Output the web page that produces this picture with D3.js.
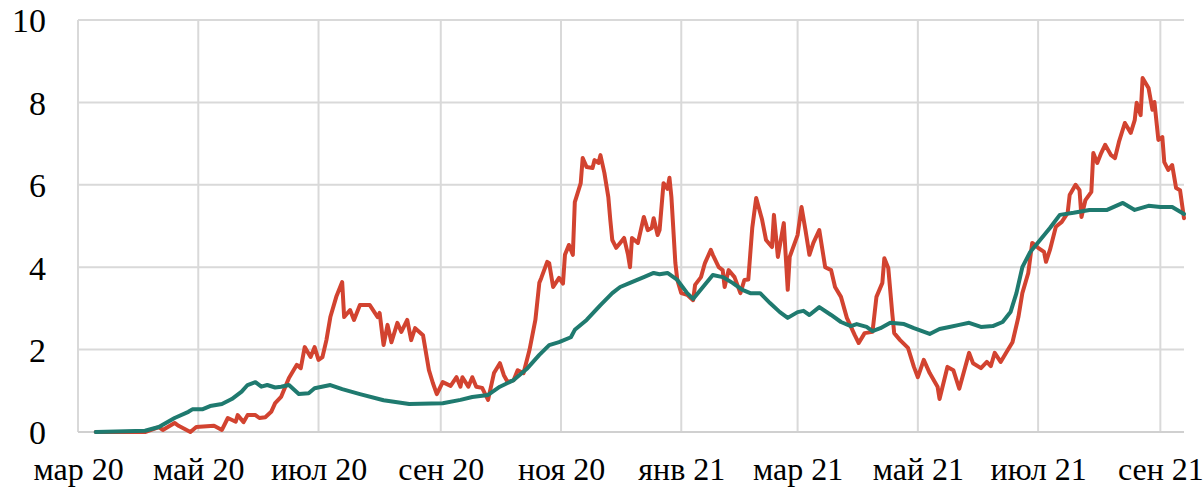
<!DOCTYPE html>
<html><head><meta charset="utf-8">
<script src="https://cdn.jsdelivr.net/npm/d3@7"></script>
<style>
html,body{margin:0;padding:0;background:#fff;}
svg{display:block;}
text{font-family:"Liberation Serif","Times New Roman",serif;fill:#000;}
</style></head>
<body>
<svg id="chart" width="1203" height="491"></svg>
<script>
// ---- data (day offsets from 1 Mar 2020, values) ----
const startDate = new Date(2020, 2, 1);
const endDate = new Date(2021, 8, 13);
const yTicks = [0, 2, 4, 6, 8, 10];
const tickDates = ["2020-03-01","2020-05-01","2020-07-01","2020-09-01","2020-11-01","2021-01-01","2021-03-01","2021-05-01","2021-07-01","2021-09-01"];
const tickLabels = ["мар 20","май 20","июл 20","сен 20","ноя 20","янв 21","мар 21","май 21","июл 21","сен 21"];

const redDays = [9,34,41,43,49,51,57,60,69,73,76,80,81,84,86,90,92,95,98,100,103,107,111,113,115,118,120,122,124,126,128,131,134,135,138,140,143,148,152,153,155,157,159,162,164,167,169,171,175,178,180,182,185,189,192,194,195,198,200,202,205,208,211,214,216,218,221,223,226,229,232,234,235,238,239,241,244,246,247,249,251,252,255,256,258,261,262,264,265,267,269,270,271,273,275,277,279,280,281,284,287,289,291,292,294,295,297,299,300,301,303,304,306,309,312,313,316,318,321,322,325,327,328,330,333,336,338,340,342,344,347,349,352,353,355,358,360,361,365,367,369,371,373,376,379,382,384,387,390,394,396,399,403,405,408,409,411,413,414,417,421,424,426,429,432,436,437,441,444,447,452,454,458,461,463,465,468,471,474,477,479,482,484,487,490,491,493,496,499,502,503,506,508,509,511,514,515,517,519,521,524,526,528,531,534,536,537,539,540,543,545,546,548,550,551,553,555,557,559,561];
const redVals = [0,0,0.12,0.05,0.22,0.15,0,0.12,0.15,0.05,0.34,0.25,0.41,0.24,0.41,0.41,0.34,0.36,0.49,0.7,0.85,1.31,1.63,1.55,2.06,1.82,2.06,1.75,1.82,2.23,2.79,3.28,3.64,2.79,2.96,2.72,3.08,3.08,2.79,2.89,2.11,2.6,2.18,2.65,2.43,2.72,2.23,2.52,2.35,1.5,1.19,0.92,1.21,1.12,1.33,1.1,1.33,1.1,1.33,1.1,1.07,0.78,1.43,1.67,1.38,1.21,1.26,1.5,1.43,1.99,2.72,3.62,3.74,4.13,4.1,3.52,3.74,3.6,4.3,4.54,4.3,5.58,6.04,6.65,6.43,6.41,6.6,6.53,6.72,6.29,5.7,5.15,4.66,4.47,4.59,4.71,4.3,4.0,4.71,4.59,5.22,4.9,4.95,5.19,4.78,4.9,6.04,5.9,6.17,5.7,4.1,3.69,3.37,3.33,3.2,3.57,3.76,4.1,4.42,4.3,4.0,3.93,3.52,3.93,3.76,3.37,3.69,3.7,4.95,5.68,5.15,4.66,4.49,5.27,4.25,5.07,3.45,4.25,4.78,5.46,4.9,4.3,4.59,4.9,4.0,3.93,3.52,3.28,2.77,2.35,2.16,2.4,2.43,3.28,3.62,4.22,3.98,2.89,2.4,2.23,2.04,1.58,1.33,1.75,1.43,1.1,0.8,1.58,1.5,1.05,1.92,1.67,1.55,1.7,1.6,1.92,1.7,1.94,2.18,2.79,3.37,3.86,4.59,4.47,4.37,4.13,4.42,4.98,5.1,5.32,5.75,6.0,5.87,5.22,5.63,5.83,6.77,6.53,6.77,6.97,6.72,6.65,7.04,7.5,7.26,7.57,7.99,7.69,8.59,8.35,7.82,8.01,7.09,7.16,6.55,6.36,6.48,5.92,5.87,5.19];

const tealDays = [9,34,41,49,56,58,63,67,73,78,83,86,90,93,96,100,103,107,112,117,120,128,134,143,155,168,185,194,200,208,214,221,228,234,239,244,250,252,258,265,271,275,280,287,292,295,299,304,309,312,317,322,327,332,337,341,346,351,356,360,365,368,371,376,382,387,392,395,400,403,407,412,419,424,432,437,442,447,452,458,464,469,473,476,479,483,488,493,498,505,513,522,530,536,543,549,555,561];
const tealVals = [0,0.03,0.12,0.34,0.49,0.55,0.55,0.63,0.68,0.8,0.98,1.14,1.21,1.1,1.14,1.08,1.1,1.14,0.92,0.94,1.06,1.14,1.04,0.92,0.77,0.68,0.7,0.78,0.85,0.9,1.1,1.26,1.55,1.87,2.11,2.18,2.3,2.48,2.72,3.08,3.37,3.52,3.62,3.76,3.86,3.83,3.86,3.69,3.37,3.23,3.52,3.81,3.76,3.62,3.45,3.37,3.37,3.13,2.91,2.77,2.91,2.94,2.84,3.03,2.84,2.67,2.57,2.62,2.55,2.45,2.52,2.65,2.62,2.52,2.38,2.5,2.55,2.6,2.65,2.55,2.57,2.67,2.91,3.37,4.0,4.37,4.66,4.95,5.27,5.32,5.39,5.39,5.56,5.39,5.49,5.46,5.46,5.29];

// ---- drawing ----
const svg = d3.select("#chart");
const x = d3.scaleTime().domain([startDate, endDate]).range([78, 1184]);
const y = d3.scaleLinear().domain([0, 10]).range([432, 20]);
const parse = d3.timeParse("%Y-%m-%d");
const tickVals = tickDates.map(parse);

const grid = svg.append("g");
grid.selectAll("line.h").data(yTicks.slice(1)).join("line")
  .attr("x1", 78).attr("x2", 1184)
  .attr("y1", d => y(d)).attr("y2", d => y(d))
  .attr("stroke", "#d9d9d9").attr("stroke-width", 2);
grid.selectAll("line.v").data(tickVals).join("line")
  .attr("x1", d => x(d)).attr("x2", d => x(d))
  .attr("y1", y(10)).attr("y2", y(0))
  .attr("stroke", "#d9d9d9").attr("stroke-width", 2);

// x axis
const xAxis = d3.axisBottom(x).tickValues(tickVals).tickSize(0).tickPadding(0)
  .tickFormat((d, i) => tickLabels[i]);
const gx = svg.append("g").attr("transform", `translate(0,${y(0)})`).call(xAxis);
gx.select(".domain").attr("stroke", "#d0d0d0").attr("stroke-width", 2)
  .attr("d", `M78,0H1184`);
gx.selectAll("text").attr("y", 48).attr("dy", null).attr("font-size", 32)
  .style("font-family", '"Liberation Serif", serif').attr("fill", "#000");

// y axis
const yAxis = d3.axisLeft(y).tickValues(yTicks).tickSize(0).tickPadding(0).tickFormat(d3.format("d"));
const gy = svg.append("g").attr("transform", "translate(46,0)").call(yAxis);
gy.select(".domain").remove();
gy.selectAll("text").attr("x", 0).attr("dy", "0.35em").attr("font-size", 34)
  .style("font-family", '"Liberation Serif", serif').attr("fill", "#000");

const mk = (days, vals) => days.map((d, i) => ({date: d3.timeDay.offset(startDate, d), v: vals[i]}));
const line = d3.line().x(d => x(d.date)).y(d => y(d.v)).curve(d3.curveLinear);

svg.append("path").datum(mk(redDays, redVals)).attr("d", line)
  .attr("fill", "none").attr("stroke", "#d24330").attr("stroke-width", 4)
  .attr("stroke-linejoin", "round").attr("stroke-linecap", "round");
svg.append("path").datum(mk(tealDays, tealVals)).attr("d", line)
  .attr("fill", "none").attr("stroke", "#1f7a6f").attr("stroke-width", 4)
  .attr("stroke-linejoin", "round").attr("stroke-linecap", "round");
</script>
</body></html>
